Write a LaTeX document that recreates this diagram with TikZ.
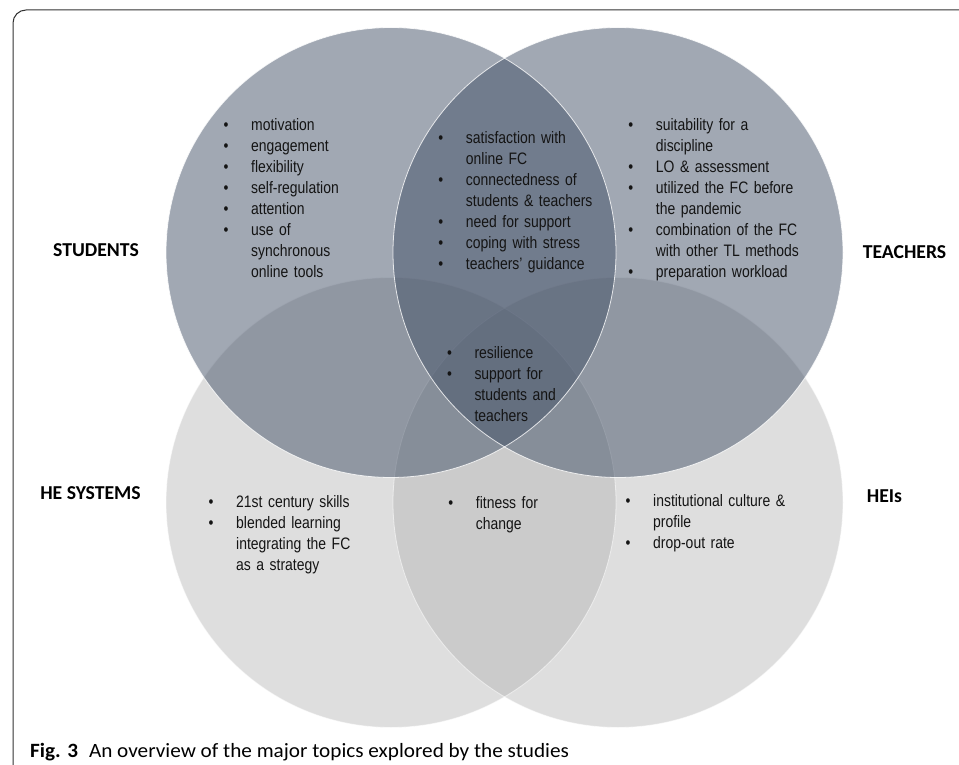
\documentclass[tikz,border=0pt]{standalone}
\usepackage{fontspec}
\usepackage{xcolor}
\usepackage{tikz}
\newfontfamily\listfont[FakeStretch=0.84]{Liberation Sans}
\newfontfamily\labelfont{Carlito}
\newfontfamily\capfont[FakeStretch=1.045]{Carlito}
\definecolor{topgray}{RGB}{67,81,103}
\definecolor{lowgray}{RGB}{177,177,177}
\definecolor{framegray}{RGB}{50,50,50}
\newcommand{\vitem}[1]{\hangindent=27.5pt\hangafter=1\noindent\rule{0pt}{13pt}\makebox[27.5pt][l]{\textbullet}#1\par}

\tikzset{
  topics/.style={anchor=north west, inner sep=0pt, text width=200pt, align=left,
    font=\listfont\fontsize{16.6}{21}\selectfont, text=black!92},
  group/.style={inner sep=0pt, font=\labelfont\bfseries\fontsize{19.7}{23}\selectfont},
  lowset/.style={fill=lowgray, fill opacity=0.42, draw=none},
  topset/.style={fill=topgray, fill opacity=0.5, draw=none},
  rim/.style={draw=white, line width=0.8pt}
}

\begin{document}
\begin{tikzpicture}[x=1pt, y=-1pt]
	\useasboundingbox (0,0) rectangle (959,765);
	\draw[framegray, line width=1pt, rounded corners=13pt] (13,765) -- (13,10) -- (959,10);

	\coordinate (stu) at (391,252.5);
	\coordinate (tea) at (618,252.5);
	\coordinate (hes) at (391,502.5);
	\coordinate (hei) at (618,502.5);

	% lower pair first, upper pair on top
	\fill[lowset] (hes) circle[radius=225pt];
	\fill[lowset] (hei) circle[radius=225pt];
	\draw[rim, opacity=0.55] (hes) circle[radius=225pt];
	\draw[rim, opacity=0.55] (hei) circle[radius=225pt];
	\fill[topset] (stu) circle[radius=225pt];
	\fill[topset] (tea) circle[radius=225pt];
	\draw[rim, opacity=0.8] (stu) circle[radius=225pt];
	\draw[rim, opacity=0.8] (tea) circle[radius=225pt];

	\node[group] (studentsLbl) at (96,250) {STUDENTS};
	\node[group] (teachersLbl) at (904.5,252) {TEACHERS};
	\node[group] (hesysLbl) at (90.5,493) {HE SYSTEMS};
	\node[group] (heisLbl) at (884.5,496) {HEIs};

	\node[topics] (stuList) at (223.5,117) {\vitem{motivation}\vitem{engagement}\vitem{flexibility}%
		\vitem{self-regulation}\vitem{attention}\vitem{use of\newline synchronous\newline online tools}};
	\node[topics] (stuteaList) at (438.2,130) {\vitem{satisfaction with\newline online FC}%
		\vitem{connectedness of\newline students \& teachers}\vitem{need for support}%
		\vitem{coping with stress}\vitem{teachers’ guidance}};
	\node[topics] (teaList) at (628.2,117) {\vitem{suitability for a\newline discipline}\vitem{LO \& assessment}%
		\vitem{utilized the FC before\newline the pandemic}\vitem{combination of the FC\newline with other TL methods}%
		\vitem{preparation workload}};
	\node[topics] (allList) at (446.8,345.3) {\vitem{resilience}\vitem{support for\newline students and\newline teachers}};
	\node[topics] (hesList) at (208.5,494) {\vitem{21st century skills}\vitem{blended learning\newline integrating the FC\newline as a strategy}};
	\node[topics] (hesheiList) at (448.2,495.7) {\vitem{fitness for\newline change}};
	\node[topics] (heiList) at (625.5,493) {\vitem{institutional culture \&\newline profile}\vitem{drop-out rate}};

	\node[anchor=base west, inner sep=0pt, font=\capfont\fontsize{20.3}{24}\selectfont] (caption) at (30,757)
		{\textbf{Fig. 3}\hspace{11pt}An overview of the major topics explored by the studies};
\end{tikzpicture}
\end{document}
